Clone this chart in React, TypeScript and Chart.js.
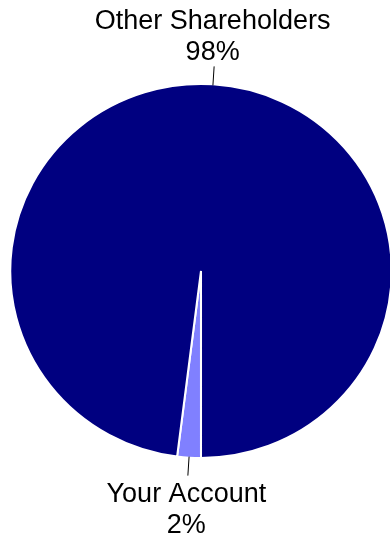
import React, { useEffect, useRef } from "react";
import { Chart, registerables } from "chart.js";

Chart.register(...registerables);

// Ownership split
const owners = ["Your Account", "Other Shareholders"];
const shares = [2, 98];
const sliceColors = ["#8080FF", "#000080"];

const FONT = '27px "Liberation Sans", Arial, sans-serif';
// The pie is drawn slightly wider than tall
const X_STRETCH = 1.02;

const stretchPie = {
  id: "stretchPie",
  beforeDatasetsDraw(chart: any) {
    const arc = chart.getDatasetMeta(0).data[0];
    if (!arc) return;
    const ctx = chart.ctx;
    ctx.save();
    ctx.translate(arc.x, 0);
    ctx.scale(X_STRETCH, 1);
    ctx.translate(-arc.x, 0);
  },
  afterDatasetsDraw(chart: any) {
    chart.ctx.restore();
  },
};

// Draws a leader line and a two-line caption (name + percent) outside each slice
const outsideLabels = {
  id: "outsideLabels",
  afterDraw(chart: any) {
    const ctx = chart.ctx;
    const meta = chart.getDatasetMeta(0);
    const total = shares.reduce((a, b) => a + b, 0);
    ctx.save();
    ctx.font = FONT;
    ctx.fillStyle = "#000000";
    ctx.strokeStyle = "#000000";
    ctx.lineWidth = 1;
    ctx.textAlign = "center";
    ctx.textBaseline = "alphabetic";
    meta.data.forEach((arc: any, i: number) => {
      const { x, y, startAngle, endAngle, outerRadius } = arc.getProps(
        ["x", "y", "startAngle", "endAngle", "outerRadius"],
        true
      );
      const mid = (startAngle + endAngle) / 2;
      const r0 = outerRadius - 1;
      const r1 = outerRadius + 18;
      const x0 = x + Math.cos(mid) * r0 * X_STRETCH;
      const y0 = y + Math.sin(mid) * r0;
      const x1 = x + Math.cos(mid) * r1 * X_STRETCH;
      const y1 = y + Math.sin(mid) * r1;
      ctx.beginPath();
      ctx.moveTo(x0, y0);
      ctx.lineTo(x1, y1);
      ctx.stroke();
      const pct = Math.round((shares[i] / total) * 100) + "%";
      const lines = [owners[i], pct];
      const lineGap = 31;
      const tx = x1 - 1.5;
      if (Math.sin(mid) < 0) {
        // caption above the pie
        ctx.fillText(lines[1], tx, y1 - 6);
        ctx.fillText(lines[0], tx, y1 - 6 - lineGap);
      } else {
        ctx.fillText(lines[0], tx, y1 + 26);
        ctx.fillText(lines[1], tx, y1 + 26 + lineGap);
      }
    });
    ctx.restore();
  },
};

export default function App() {
  const canvasRef = useRef<HTMLCanvasElement>(null);

  useEffect(() => {
    const canvas = canvasRef.current;
    if (!canvas) return;
    const chart = new Chart(canvas, {
      type: "pie",
      data: {
        labels: owners,
        datasets: [
          {
            data: shares,
            backgroundColor: sliceColors,
            borderColor: "#FFFFFF",
            borderWidth: 2,
          },
        ],
      },
      options: {
        responsive: false,
        animation: false,
        rotation: 180,
        layout: { padding: { left: 13, right: 1, top: 83, bottom: 80 } },
        plugins: {
          legend: { display: false },
          tooltip: { enabled: false },
        },
      },
      plugins: [stretchPie, outsideLabels],
    });
    return () => chart.destroy();
  }, []);

  return (
    <div style={{ position: "absolute", left: 0, top: 0, width: 390, height: 539, background: "#FFFFFF" }}>
      <canvas ref={canvasRef} width={390} height={539} />
    </div>
  );
}
